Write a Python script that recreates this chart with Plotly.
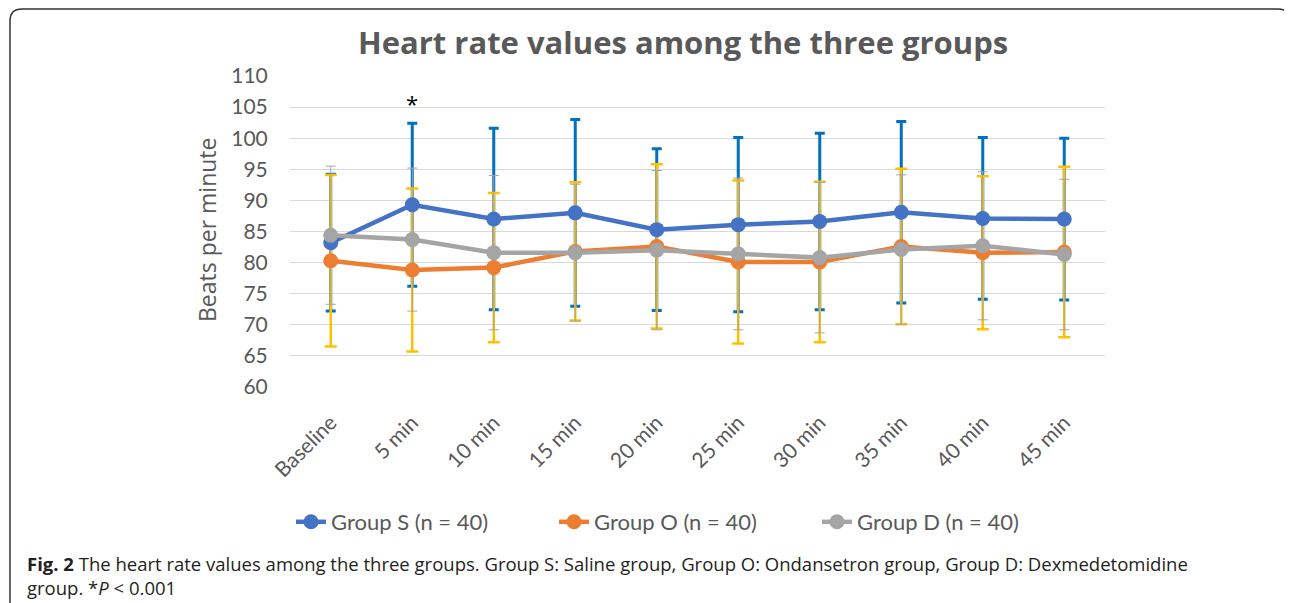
import plotly.graph_objects as go

categories = ["Baseline", "5 min", "10 min", "15 min", "20 min",
              "25 min", "30 min", "35 min", "40 min", "45 min"]

group_s_mean = [83.2, 89.3, 87.0, 88.0, 85.3, 86.1, 86.6, 88.1, 87.1, 87.0]
group_s_sd = [11.0, 13.1, 14.6, 15.0, 13.0, 14.0, 14.2, 14.6, 13.0, 13.0]

group_o_mean = [80.3, 78.8, 79.2, 81.8, 82.6, 80.1, 80.1, 82.6, 81.6, 81.7]
group_o_sd = [13.8, 13.1, 12.0, 11.1, 13.2, 13.1, 12.9, 12.5, 12.3, 13.7]

group_d_mean = [84.4, 83.7, 81.6, 81.6, 82.0, 81.4, 80.8, 82.1, 82.7, 81.3]
group_d_sd = [11.1, 11.5, 12.4, 11.0, 12.8, 12.2, 12.1, 12.0, 11.9, 12.1]

series_names = ["Group S (n = 40)", "Group O (n = 40)", "Group D (n = 40)"]

# page coordinates (browser adds an 8px body margin)
OFF = 8
PAGE_W, PAGE_H = 1292, 603
W, H = PAGE_W - OFF, PAGE_H - OFF
PL, PR, PT, PB = 290, 1105, 76, 387


def px_x(p):
    return (p - PL) / (PR - PL)


def px_y(p):
    return (PB - p) / (PB - PT)


series = [
    (series_names[0], group_s_mean, group_s_sd, "#4472C4", "#0070C0", 3, 5),
    (series_names[1], group_o_mean, group_o_sd, "#ED7D31", "#FFC000", 2.5, 6),
    (series_names[2], group_d_mean, group_d_sd, "#A5A5A5", "#A5A5A5", 1, 5),
]

fig = go.Figure()

# error bars first (drawn beneath all lines)
for name, m, sd, lc, ec, th, wd in series:
    fig.add_trace(go.Scatter(
        x=categories, y=m, mode="markers",
        marker=dict(size=1, opacity=0),
        error_y=dict(type="data", array=sd, visible=True, color=ec,
                     thickness=th, width=wd),
        showlegend=False, hoverinfo="skip"))

for name, m, sd, lc, ec, th, wd in series:
    fig.add_trace(go.Scatter(
        x=categories, y=m, mode="lines+markers", name=name,
        line=dict(color=lc, width=4.5),
        marker=dict(color=lc, size=15)))

fig.update_layout(
    width=W, height=H,
    margin=dict(l=PL - OFF, r=PAGE_W - PR, t=PT - OFF, b=PAGE_H - PB),
    paper_bgcolor="white", plot_bgcolor="white",
    font=dict(family="Lato", color="#595959"),
    showlegend=True,
    legend=dict(orientation="h", x=px_x(291), xanchor="left",
                y=px_y(522), yanchor="middle",
                font=dict(family="Lato", size=22, color="#595959"),
                entrywidth=218, entrywidthmode="pixels",
                bgcolor="rgba(0,0,0,0)"),
    xaxis=dict(type="category", range=[-0.5, 9.5], showgrid=False,
               showline=False, zeroline=False, ticks="outside", ticklen=14,
               tickcolor="rgba(0,0,0,0)",
               tickangle=-45, tickfont=dict(family="Lato", size=21, color="#595959")),
    yaxis=dict(range=[60, 110], dtick=5, tick0=60, showgrid=True,
               gridcolor="#D9D9D9", gridwidth=1, zeroline=False,
               showline=False, ticks="outside", ticklen=17,
               tickcolor="rgba(0,0,0,0)",
               tickfont=dict(family="Lato", size=21, color="#595959")),
)

annotations = [
    dict(text="<b>Heart rate values among the three groups</b>",
         xref="paper", yref="paper", x=px_x(683), y=px_y(42),
         xanchor="center", yanchor="middle", showarrow=False,
         font=dict(family="Open Sans", size=31, color="#595959")),
    dict(text="Beats per minute", xref="paper", yref="paper",
         x=px_x(207), y=px_y(230), xanchor="center", yanchor="middle",
         textangle=-90, showarrow=False,
         font=dict(family="Open Sans", size=23, color="#595959")),
    dict(text="*", xref="x", yref="y", x="5 min", y=105.6,
         xanchor="center", yanchor="middle", showarrow=False,
         font=dict(family="Open Sans", size=22, color="#000000")),
    dict(text="<b>Fig. 2</b> The heart rate values among the three groups. Group S: Saline group, "
              "Group O: Ondansetron group, Group D: Dexmedetomidine",
         xref="paper", yref="paper", x=px_x(25), y=px_y(563),
         xanchor="left", yanchor="middle", showarrow=False,
         font=dict(family="Open Sans", size=18.5, color="#231F20")),
    dict(text="group. *<i>P</i> &lt; 0.001",
         xref="paper", yref="paper", x=px_x(25), y=px_y(587),
         xanchor="left", yanchor="middle", showarrow=False,
         font=dict(family="Open Sans", size=18.5, color="#231F20")),
]
fig.update_layout(annotations=annotations)

# rounded frame around figure (open at bottom)
L, R, T, Bt, r = 10, 1290, 9, 620, 12
path = (f"M {px_x(L)},{px_y(Bt)} L {px_x(L)},{px_y(T + r)} "
        f"Q {px_x(L)},{px_y(T)} {px_x(L + r)},{px_y(T)} "
        f"L {px_x(R - r)},{px_y(T)} Q {px_x(R)},{px_y(T)} {px_x(R)},{px_y(T + r)} "
        f"L {px_x(R)},{px_y(Bt)}")
fig.add_shape(type="path", path=path, xref="paper", yref="paper",
              line=dict(color="#333333", width=1.5), layer="above")

fig.write_html("out.html")
